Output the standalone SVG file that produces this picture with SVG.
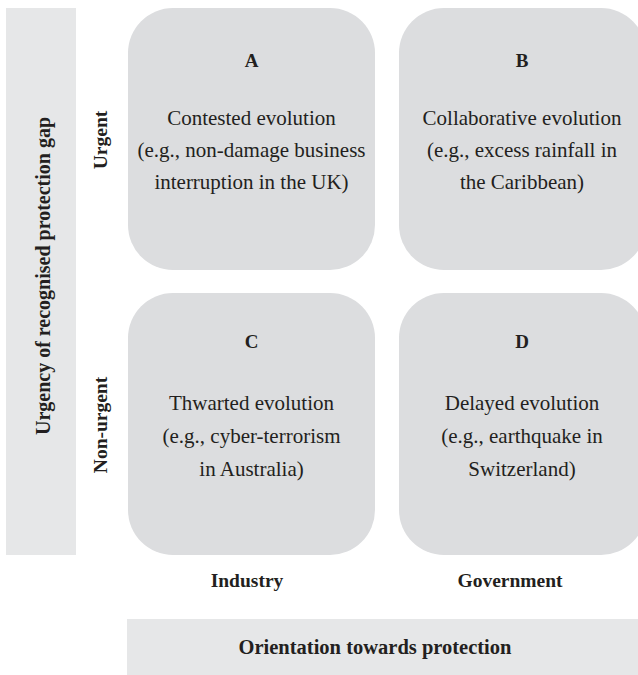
<svg xmlns="http://www.w3.org/2000/svg" width="638" height="675" viewBox="0 0 638 675">
<style>
.bar{fill:#e6e7e8}
.box{fill:#dcdddf}
text{font-family:"Liberation Serif","Times New Roman",serif;fill:#231f20;text-anchor:middle}
.t{font-size:21px}
.b{font-size:19.5px;font-weight:bold}
.v{font-size:20px;font-weight:bold}
.o{font-size:20.5px;font-weight:bold}
.l{font-size:19px;font-weight:bold}
</style>
<rect width="638" height="675" fill="#ffffff"/>
<g id="axis-y">
<rect class="bar" x="6" y="8" width="70" height="547"/>
<text class="v" transform="translate(50,276) rotate(-90)">Urgency of recognised protection gap</text>
</g>
<g id="label-urgent"><text class="b" transform="translate(107,140) rotate(-90)">Urgent</text></g>
<g id="label-nonurgent"><text class="b" transform="translate(107,425) rotate(-90)">Non-urgent</text></g>
<g id="box-A">
<rect class="box" x="128" y="8" width="247" height="262" rx="45"/>
<text class="l" x="251.5" y="67">A</text>
<text class="t" x="251.5" y="125">Contested evolution</text>
<text class="t" x="251.5" y="157">(e.g., non-damage business</text>
<text class="t" x="251.5" y="189">interruption in the UK)</text>
</g>
<g id="box-B">
<rect class="box" x="399" y="8" width="247" height="262" rx="45"/>
<text class="l" x="522" y="67">B</text>
<text class="t" x="522" y="125">Collaborative evolution</text>
<text class="t" x="522" y="157">(e.g., excess rainfall in</text>
<text class="t" x="522" y="189">the Caribbean)</text>
</g>
<g id="box-C">
<rect class="box" x="128" y="293" width="247" height="262" rx="45"/>
<text class="l" x="251.5" y="348">C</text>
<text class="t" x="251.5" y="410">Thwarted evolution</text>
<text class="t" x="251.5" y="443">(e.g., cyber-terrorism</text>
<text class="t" x="251.5" y="476">in Australia)</text>
</g>
<g id="box-D">
<rect class="box" x="399" y="293" width="247" height="262" rx="45"/>
<text class="l" x="522" y="348">D</text>
<text class="t" x="522" y="410">Delayed evolution</text>
<text class="t" x="522" y="443">(e.g., earthquake in</text>
<text class="t" x="522" y="476">Switzerland)</text>
</g>
<g id="label-industry"><text class="b" x="247" y="587">Industry</text></g>
<g id="label-government"><text class="b" x="510" y="587">Government</text></g>
<g id="axis-x">
<rect class="bar" x="127" y="619" width="520" height="60"/>
<text class="o" x="375" y="654">Orientation towards protection</text>
</g>
<g id="connectors"/>
</svg>
